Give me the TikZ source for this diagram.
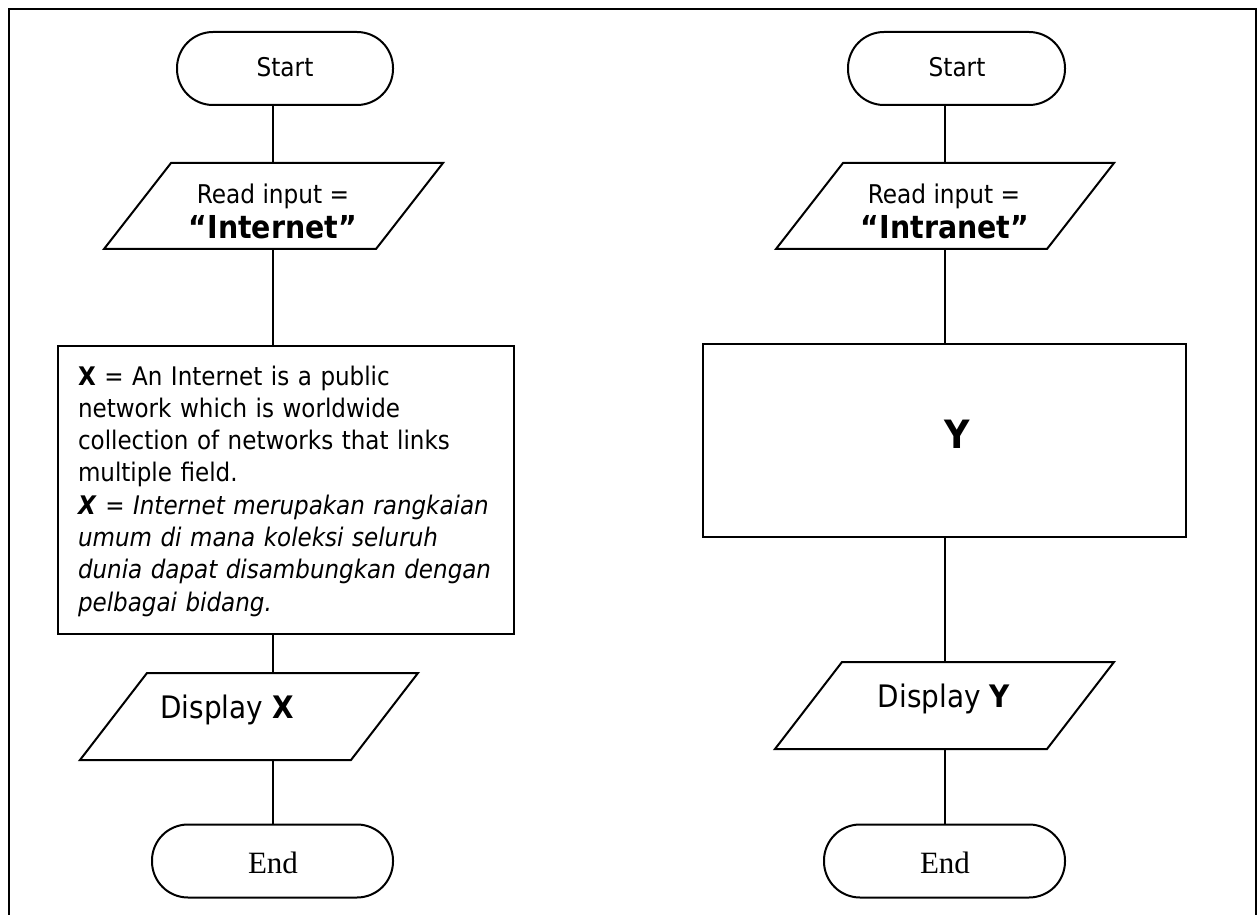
\documentclass[tikz,border=0pt]{standalone}
\usepackage{fontspec}
\newfontfamily\tah{DejaVu Sans Condensed}
\newfontfamily\tms{Liberation Serif}
\usetikzlibrary{calc}
\begin{document}
\begin{tikzpicture}[x=0.5pt,y=-0.5pt,line width=1pt,
  term/.style={draw,rounded corners=18pt,minimum height=36.5pt,inner sep=0pt},
  ghost/.style={inner sep=0pt,minimum height=#1},
  boxstyle/.style={draw,inner sep=0pt},
  tsmall/.style={font=\tah\fontsize{12.9}{15}\selectfont,inner sep=0pt,anchor=base},
  tbig/.style={font=\tah\bfseries\fontsize{15.8}{18}\selectfont,inner sep=0pt,anchor=base},
  tmid/.style={font=\tah\fontsize{15.5}{18}\selectfont,inner sep=0pt,anchor=base},
  tend/.style={font=\tms\fontsize{15.5}{18}\selectfont,inner sep=0pt,anchor=base}]
\useasboundingbox (0,0) rectangle (1260,915);
\draw[line width=1.2pt] (9,940) -- (9,9) -- (1256,9) -- (1256,940);

% axes
\coordinate (axL) at (273,0);
\coordinate (axR) at (945,0);

% ---------- left column ----------
\node[term,minimum width=108pt] (sL) at (285,68.5) {};
\node[tsmall] (sLt) at (285,77) {Start};

\node[ghost=42pt,minimum width=168.5pt] (rdL) at (273.5,206) {};
\draw ($(rdL.north west)+(67,0)$) -- (rdL.north east) -- ($(rdL.south east)-(67,0)$) -- (rdL.south west) -- cycle;
\node[tsmall] (rdLa) at (273,204) {Read input =};
\node[tbig] (rdLb) at (273,239) {“Internet”};

\node[boxstyle,minimum width=228pt,minimum height=144pt,anchor=north west] (bx) at (57,345) {};
\node[font=\tah\fontsize{12.8}{16.15}\selectfont,inner sep=0pt,anchor=base west,text width=215pt,align=left] (tx) at (77,385)
{\textbf{X} = An Internet is a public\\
network which is worldwide\\
collection of networks that links\\
multiple field.\\
\textbf{\itshape X} = \textit{Internet merupakan rangkaian}\\
\textit{umum di mana koleksi seluruh}\\
\textit{dunia dapat disambungkan dengan}\\
\textit{pelbagai bidang.}};

\node[ghost=42.5pt,minimum width=168pt] (dpL) at (249,716.5) {};
\draw ($(dpL.north west)+(67,0)$) -- (dpL.north east) -- ($(dpL.south east)-(67,0)$) -- (dpL.south west) -- cycle;
\node[tmid] (dpLt) at (227,718) {Display \textbf{X}};

\node[term,minimum width=120.5pt] (eL) at (272.5,861) {};
\node[tend] (eLt) at (273,873) {End};

\draw (sL.south -| axL) -- (rdL.north -| axL);
\draw (rdL.south -| axL) -- (bx.north -| axL);
\draw (bx.south -| axL) -- (dpL.north -| axL);
\draw (dpL.south -| axL) -- (eL.north -| axL);

% ---------- right column ----------
\node[term,minimum width=108.5pt] (sR) at (956.5,68.5) {};
\node[tsmall] (sRt) at (957,77) {Start};

\node[ghost=42pt,minimum width=168pt] (rdR) at (945,206) {};
\draw ($(rdR.north west)+(67,0)$) -- (rdR.north east) -- ($(rdR.south east)-(67,0)$) -- (rdR.south west) -- cycle;
\node[tsmall] (rdRa) at (944,204) {Read input =};
\node[tbig] (rdRb) at (945,239) {“Intranet”};

\node[boxstyle,minimum width=241.5pt,minimum height=96.5pt] (by) at (944.5,440.5) {};
\node[font=\tah\bfseries\fontsize{19.5}{22}\selectfont,inner sep=0pt,anchor=base] (byt) at (957,448) {Y};

\node[ghost=42.5pt,minimum width=168.5pt] (dpR) at (944.5,705.5) {};
\draw ($(dpR.north west)+(67,0)$) -- (dpR.north east) -- ($(dpR.south east)-(67,0)$) -- (dpR.south west) -- cycle;
\node[tmid] (dpRt) at (944,707) {Display \textbf{Y}};

\node[term,minimum width=120.5pt] (eR) at (944.5,861) {};
\node[tend] (eRt) at (945,873) {End};

\draw (sR.south -| axR) -- (rdR.north -| axR);
\draw (rdR.south -| axR) -- (by.north -| axR);
\draw (by.south -| axR) -- (dpR.north -| axR);
\draw (dpR.south -| axR) -- (eR.north -| axR);
\end{tikzpicture}
\end{document}
